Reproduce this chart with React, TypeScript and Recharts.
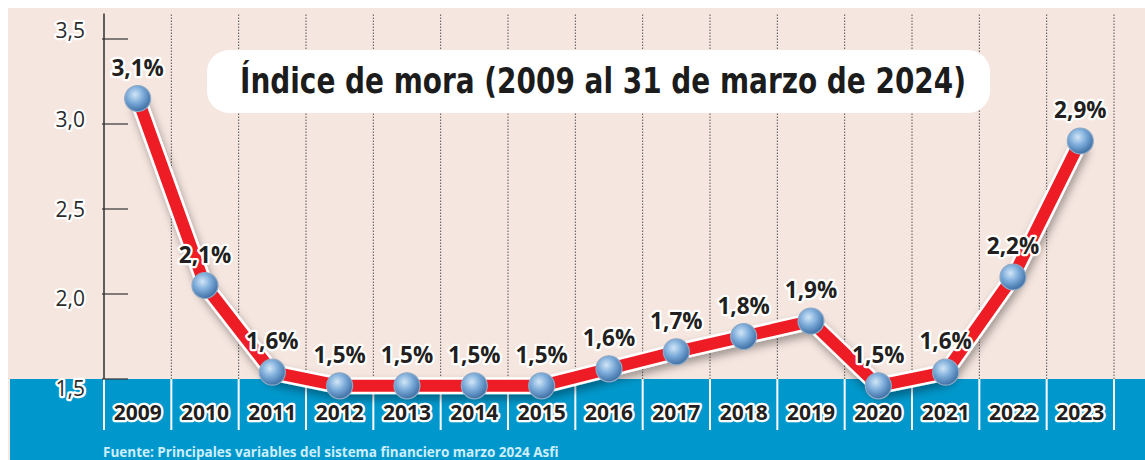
import React from "react";
import {
  ComposedChart,
  Line,
  XAxis,
  YAxis,
  ReferenceLine,
  ReferenceArea,
  LabelList,
} from "recharts";

const years = [
  "2009", "2010", "2011", "2012", "2013", "2014", "2015", "2016",
  "2017", "2018", "2019", "2020", "2021", "2022", "2023",
];
const mora = [
  3.15, 2.05, 1.54, 1.46, 1.46, 1.46, 1.46, 1.56, 1.66, 1.75, 1.84, 1.46, 1.54,
  2.1, 2.9,
];
const moraLabels = [
  "3,1%", "2,1%", "1,6%", "1,5%", "1,5%", "1,5%", "1,5%", "1,6%",
  "1,7%", "1,8%", "1,9%", "1,5%", "1,6%", "2,2%", "2,9%",
];
const yTicks = [1.5, 2.0, 2.5, 3.0, 3.5];
const yTickLabels = ["1,5", "2,0", "2,5", "3,0", "3,5"];

const data = years.map((year, i) => ({ year, mora: mora[i], label: moraLabels[i] }));

const W = 1137;
const H = 452;
const PINK = "#f6e6e0";
const BLUE = "#0098cc";
const RED = "#ee1c25";
const FONT = '"Open Sans", "Noto Sans", sans-serif';
const Y_MIN = 1.2;
const Y_BASE = 1.5; // where the blue band starts
const Y_TOP = 3.65;

const halo = {
  stroke: "#fff",
  strokeWidth: 4.5,
  paintOrder: "stroke" as const,
  strokeLinejoin: "round" as const,
};

const YTick = (props: any) => {
  const { x, y, index, payload } = props;
  const shift = (2.5 - payload.value) * 9;
  return (
    <g>
      <line x1={x - 2} x2={x + 24} y1={y} y2={y} stroke="#333" strokeWidth={1.2} />
      <text
        x={x - 19}
        y={y + shift}
        dy={7.5}
        textAnchor="end"
        fontFamily={FONT}
        fontSize={21}
        fill="#2b2b2b"
        {...halo}
      >
        {yTickLabels[index]}
      </text>
    </g>
  );
};

const XTick = (props: any) => {
  const { x, y, payload } = props;
  return (
    <text
      x={x}
      y={y - 10}
      textAnchor="middle"
      fontFamily={FONT}
      fontWeight={700}
      fontSize={21}
      fill="#231f20"
      {...halo}
    >
      {payload.value}
    </text>
  );
};

const PointLabel = (props: any) => {
  const { x, y, value } = props;
  return (
    <text
      x={x}
      y={y - 31}
      dy={8}
      textAnchor="middle"
      fontFamily={FONT}
      fontWeight={700}
      fontSize={22.5}
      fill="#231f20"
      {...halo}
    >
      {value}
    </text>
  );
};

const Ball = (props: any) => {
  const { cx, cy, index } = props;
  return (
    <g key={`ball-${index}`}>
      <circle cx={cx} cy={cy} r={13} fill="url(#ball)" stroke="#8eaac6" strokeWidth={1.2} />
    </g>
  );
};

const BlueBand = (props: any) => (
  <rect x={2} y={props.y} width={W} height={H - props.y} fill={BLUE} />
);

export default function App() {
  return (
    <div
      style={{
        position: "fixed",
        left: 8,
        top: 8,
        width: W,
        height: H,
        background: PINK,
        overflow: "hidden",
        fontFamily: FONT,
      }}
    >
      <svg width={0} height={0} style={{ position: "absolute" }}>
        <defs>
          <radialGradient id="ball" cx="40%" cy="35%" r="70%">
            <stop offset="0%" stopColor="#d2e6f6" />
            <stop offset="45%" stopColor="#7eaddb" />
            <stop offset="100%" stopColor="#36679d" />
          </radialGradient>
          <filter id="lineShadow" x="-10%" y="-20%" width="120%" height="150%">
            <feDropShadow dx="2" dy="5" stdDeviation="4" floodColor="#000" floodOpacity="0.35" />
          </filter>
        </defs>
      </svg>
      <ComposedChart
        width={W}
        height={H}
        data={data}
        margin={{ top: 5.5, right: 31, bottom: 0, left: 0 }}
      >
        <XAxis
          dataKey="year"
          scale="band"
          interval={0}
          height={30}
          axisLine={false}
          tickLine={false}
          tickSize={0}
          tickMargin={0}
          tick={<XTick />}
        />
        <YAxis
          type="number"
          domain={[Y_MIN, Y_TOP]}
          ticks={yTicks}
          allowDataOverflow
          width={96}
          axisLine={false}
          tickLine={false}
          tickSize={0}
          tickMargin={0}
          tick={<YTick />}
        />
        <ReferenceArea y1={Y_MIN} y2={Y_BASE} shape={<BlueBand />} zIndex={-300} />
        {years.map((yr, i) => (
          <ReferenceLine
            key={`g-${yr}`}
            segment={[{ x: yr, y: Y_BASE }, { x: yr, y: Y_TOP }]}
            position="start"
            stroke={i === 0 ? "#222" : "#555"}
            strokeWidth={i === 0 ? 1.4 : 1}
            strokeDasharray={i === 0 ? undefined : "1.5 1.5"}
            zIndex={-200}
          />
        ))}
        <ReferenceLine
          segment={[{ x: years[years.length - 1], y: Y_BASE }, { x: years[years.length - 1], y: Y_TOP }]}
          position="end"
          stroke="#555"
          strokeDasharray="1.5 1.5"
          zIndex={-200}
        />
        {years.map((yr) => (
          <ReferenceLine
            key={`w-${yr}`}
            segment={[{ x: yr, y: Y_MIN }, { x: yr, y: Y_BASE }]}
            position="start"
            stroke="#fff"
            strokeWidth={2}
            zIndex={-200}
          />
        ))}
        <ReferenceLine
          segment={[{ x: years[years.length - 1], y: Y_MIN }, { x: years[years.length - 1], y: Y_BASE }]}
          position="end"
          stroke="#fff"
          strokeWidth={2}
          zIndex={-200}
        />
        <Line
          dataKey="mora"
          type="linear"
          stroke="#fff"
          strokeWidth={17}
          strokeLinejoin="round"
          dot={false}
          activeDot={false}
          filter="url(#lineShadow)"
          isAnimationActive={false}
        />
        <Line
          dataKey="mora"
          type="linear"
          stroke={RED}
          strokeWidth={12}
          strokeLinejoin="round"
          dot={<Ball />}
          activeDot={false}
          isAnimationActive={false}
        >
          <LabelList dataKey="label" content={<PointLabel />} />
        </Line>
      </ComposedChart>

      <div
        style={{
          position: "absolute",
          left: 199,
          top: 42,
          width: 783,
          height: 63,
          background: "#fff",
          borderRadius: 22,
        }}
      />
      <svg
        width={W}
        height={120}
        style={{ position: "absolute", left: 0, top: 0, pointerEvents: "none" }}
      >
        <text
          x={232}
          y={85}
          textLength={726}
          lengthAdjust="spacingAndGlyphs"
          fontFamily='"Liberation Sans Narrow", "DejaVu Sans Condensed", "Arial Narrow", sans-serif'
          fontWeight={700}
          fontSize={35}
          fill="#1c1c1c"
        >
          Índice de mora (2009 al 31 de marzo de 2024)
        </text>
      </svg>

      <div
        style={{
          position: "absolute",
          left: 95,
          top: 436,
          fontSize: 13.5,
          lineHeight: "16px",
          fontWeight: 700,
          color: "#cdeefa",
          whiteSpace: "nowrap",
        }}
      >
        Fuente: Principales variables del sistema financiero marzo 2024 Asfi
      </div>
    </div>
  );
}
